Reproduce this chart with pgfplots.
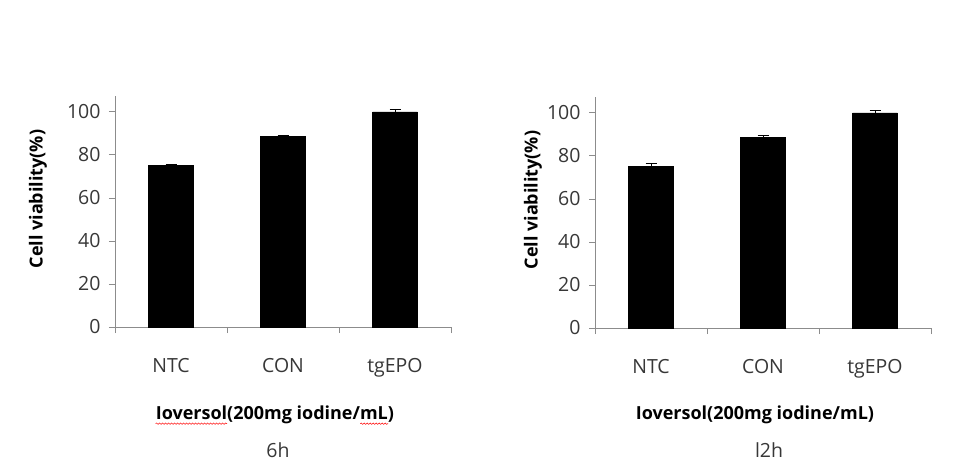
\documentclass[border=0pt]{standalone}
\usepackage{fontspec}
\setmainfont{Open Sans}
\usepackage{pgfplots}
\pgfplotsset{compat=1.18}
\usetikzlibrary{decorations.pathmorphing}
\definecolor{axgray}{RGB}{140,140,140}
\definecolor{txtgray}{RGB}{55,55,55}
\newcommand{\bigf}{\fontsize{18}{21}\selectfont}
\newcommand{\tickf}{\fontsize{19.5}{22}\selectfont}
\newlength\wIo \newlength\wmL \newlength\wpar
\pgfplotsset{
  vbar/.style={
    scale only axis, width=336pt, height=231pt, anchor=south west,
    xmin=0.5, xmax=3.5, ymin=0, ymax=107.4,
    clip=false,
    ybar, bar width=0.4,
    axis x line*=bottom, axis y line*=left,
    axis line style={axgray, line width=0.9pt},
    xtick={1,2,3}, xticklabels={NTC,CON,tgEPO},
    minor xtick={0.5,1.5,2.5,3.5},
    ytick={0,20,...,100},
    tick align=outside,
    major tick length=6pt, minor tick length=6pt,
    major x tick style={draw=none},
    minor x tick style={axgray, line width=0.9pt},
    y tick style={axgray, line width=0.9pt},
    ticklabel style={font=\tickf, text=txtgray},
    /pgf/number format/assume math mode=true,
    xticklabel style={yshift=-22pt},
    yticklabel style={xshift=-5pt},
    label style={font=\bigf\bfseries, text=black},
  },
  barplot/.style={
    fill=black, draw=black,
    error bars/.cd, y dir=plus, y explicit,
    error mark=|,
    error bar style={black, line width=0.9pt},
    error mark options={black, mark size=5.5pt, line width=0.9pt},
  },
}
\begin{document}
\settowidth\wIo{\bigf\bfseries Ioversol}%
\settowidth\wmL{\bigf\bfseries mL}%
\settowidth\wpar{\bigf\bfseries )}%
\begin{tikzpicture}[x=1pt,y=1pt]
\path[use as bounding box] (0,0) rectangle (967,475);
\begin{axis}[vbar, at={(115pt,148pt)},
  ylabel={Cell viability(\%)},
  ylabel style={at={(axis description cs:-0.229,0.554)}, anchor=center},
  xlabel={Ioversol(200mg iodine/mL)},
  xlabel style={at={(axis description cs:0.476,-0.381)}, anchor=center, inner sep=0pt, name=xlA}]
\addplot[barplot] coordinates {(1,75.2) +- (0,0.5) (2,88.6) +- (0,0.5) (3,100) +- (0,1.0)};
\node[font=\tickf, text=txtgray] at (axis description cs:0.485,-0.532) {6h};
\end{axis}
\draw[red, line width=0.5pt, decorate, decoration={snake, amplitude=0.7pt, segment length=3pt}]
  ([yshift=-4pt]xlA.base west) -- ++(\wIo,0);
\draw[red, line width=0.5pt, decorate, decoration={snake, amplitude=0.7pt, segment length=3pt}]
  ([xshift=-\wpar-\wmL, yshift=-4pt]xlA.base east) -- ++(\wmL,0);
\begin{axis}[vbar, at={(595pt,147pt)},
  ylabel={Cell viability(\%)},
  ylabel style={at={(axis description cs:-0.185,0.554)}, anchor=center},
  xlabel={Ioversol(200mg iodine/mL)},
  xlabel style={at={(axis description cs:0.476,-0.377)}, anchor=center}]
\addplot[barplot] coordinates {(1,75.3) +- (0,1.0) (2,88.5) +- (0,1.2) (3,100) +- (0,1.2)};
\node[font=\tickf, text=txtgray] at (axis description cs:0.518,-0.528) {l2h};
\end{axis}
\end{tikzpicture}
\end{document}
